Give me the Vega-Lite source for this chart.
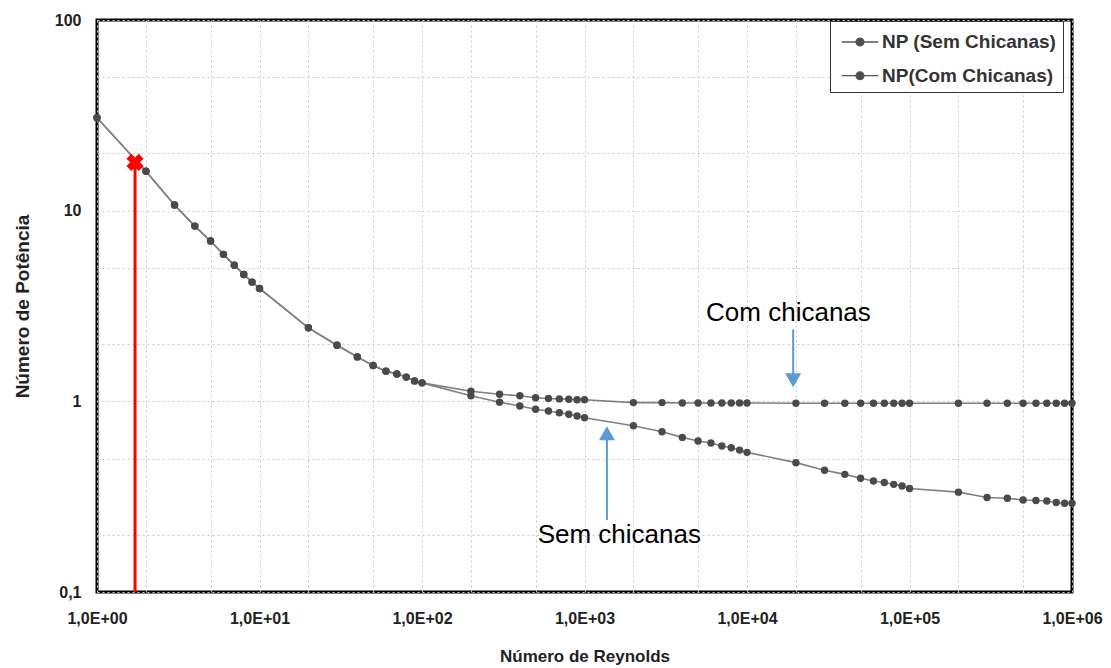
{
  "$schema": "https://vega.github.io/schema/vega-lite/v6.json",
  "width": 975,
  "height": 572,
  "autosize": {"type": "none"},
  "padding": {"left": 97, "top": 20, "right": 39, "bottom": 76},
  "background": "#ffffff",
  "config": {
    "view": {"stroke": "#000000", "strokeWidth": 3},
    "font": "Liberation Sans"
  },
  "datasets": {
    "series": [
      {"series": "NP (Sem Chicanas)", "Re": 1, "NP": 30.7},
      {"series": "NP (Sem Chicanas)", "Re": 2, "NP": 16.1},
      {"series": "NP (Sem Chicanas)", "Re": 3, "NP": 10.7},
      {"series": "NP (Sem Chicanas)", "Re": 4, "NP": 8.3},
      {"series": "NP (Sem Chicanas)", "Re": 5, "NP": 6.93},
      {"series": "NP (Sem Chicanas)", "Re": 6, "NP": 5.9},
      {"series": "NP (Sem Chicanas)", "Re": 7, "NP": 5.18},
      {"series": "NP (Sem Chicanas)", "Re": 8, "NP": 4.63},
      {"series": "NP (Sem Chicanas)", "Re": 9, "NP": 4.22},
      {"series": "NP (Sem Chicanas)", "Re": 10, "NP": 3.91},
      {"series": "NP (Sem Chicanas)", "Re": 20, "NP": 2.43},
      {"series": "NP (Sem Chicanas)", "Re": 30, "NP": 1.97},
      {"series": "NP (Sem Chicanas)", "Re": 40, "NP": 1.71},
      {"series": "NP (Sem Chicanas)", "Re": 50, "NP": 1.54},
      {"series": "NP (Sem Chicanas)", "Re": 60, "NP": 1.44},
      {"series": "NP (Sem Chicanas)", "Re": 70, "NP": 1.39},
      {"series": "NP (Sem Chicanas)", "Re": 80, "NP": 1.34},
      {"series": "NP (Sem Chicanas)", "Re": 90, "NP": 1.28},
      {"series": "NP (Sem Chicanas)", "Re": 100, "NP": 1.25},
      {"series": "NP (Sem Chicanas)", "Re": 200, "NP": 1.07},
      {"series": "NP (Sem Chicanas)", "Re": 300, "NP": 0.99},
      {"series": "NP (Sem Chicanas)", "Re": 400, "NP": 0.945},
      {"series": "NP (Sem Chicanas)", "Re": 500, "NP": 0.908},
      {"series": "NP (Sem Chicanas)", "Re": 600, "NP": 0.89},
      {"series": "NP (Sem Chicanas)", "Re": 700, "NP": 0.872},
      {"series": "NP (Sem Chicanas)", "Re": 800, "NP": 0.855},
      {"series": "NP (Sem Chicanas)", "Re": 900, "NP": 0.837},
      {"series": "NP (Sem Chicanas)", "Re": 1000, "NP": 0.821},
      {"series": "NP (Sem Chicanas)", "Re": 2000, "NP": 0.745},
      {"series": "NP (Sem Chicanas)", "Re": 3000, "NP": 0.692},
      {"series": "NP (Sem Chicanas)", "Re": 4000, "NP": 0.647},
      {"series": "NP (Sem Chicanas)", "Re": 5000, "NP": 0.62},
      {"series": "NP (Sem Chicanas)", "Re": 6000, "NP": 0.605},
      {"series": "NP (Sem Chicanas)", "Re": 7000, "NP": 0.583},
      {"series": "NP (Sem Chicanas)", "Re": 8000, "NP": 0.571},
      {"series": "NP (Sem Chicanas)", "Re": 9000, "NP": 0.555},
      {"series": "NP (Sem Chicanas)", "Re": 10000, "NP": 0.54},
      {"series": "NP (Sem Chicanas)", "Re": 20000, "NP": 0.477},
      {"series": "NP (Sem Chicanas)", "Re": 30000, "NP": 0.435},
      {"series": "NP (Sem Chicanas)", "Re": 40000, "NP": 0.414},
      {"series": "NP (Sem Chicanas)", "Re": 50000, "NP": 0.395},
      {"series": "NP (Sem Chicanas)", "Re": 60000, "NP": 0.382},
      {"series": "NP (Sem Chicanas)", "Re": 70000, "NP": 0.375},
      {"series": "NP (Sem Chicanas)", "Re": 80000, "NP": 0.367},
      {"series": "NP (Sem Chicanas)", "Re": 90000, "NP": 0.36},
      {"series": "NP (Sem Chicanas)", "Re": 100000, "NP": 0.349},
      {"series": "NP (Sem Chicanas)", "Re": 200000, "NP": 0.334},
      {"series": "NP (Sem Chicanas)", "Re": 300000, "NP": 0.313},
      {"series": "NP (Sem Chicanas)", "Re": 400000, "NP": 0.31},
      {"series": "NP (Sem Chicanas)", "Re": 500000, "NP": 0.304},
      {"series": "NP (Sem Chicanas)", "Re": 600000, "NP": 0.302},
      {"series": "NP (Sem Chicanas)", "Re": 700000, "NP": 0.3},
      {"series": "NP (Sem Chicanas)", "Re": 800000, "NP": 0.295},
      {"series": "NP (Sem Chicanas)", "Re": 900000, "NP": 0.292},
      {"series": "NP (Sem Chicanas)", "Re": 1000000, "NP": 0.292},
      {"series": "NP(Com Chicanas)", "Re": 1, "NP": 30.7},
      {"series": "NP(Com Chicanas)", "Re": 2, "NP": 16.1},
      {"series": "NP(Com Chicanas)", "Re": 3, "NP": 10.7},
      {"series": "NP(Com Chicanas)", "Re": 4, "NP": 8.3},
      {"series": "NP(Com Chicanas)", "Re": 5, "NP": 6.93},
      {"series": "NP(Com Chicanas)", "Re": 6, "NP": 5.9},
      {"series": "NP(Com Chicanas)", "Re": 7, "NP": 5.18},
      {"series": "NP(Com Chicanas)", "Re": 8, "NP": 4.63},
      {"series": "NP(Com Chicanas)", "Re": 9, "NP": 4.22},
      {"series": "NP(Com Chicanas)", "Re": 10, "NP": 3.91},
      {"series": "NP(Com Chicanas)", "Re": 20, "NP": 2.43},
      {"series": "NP(Com Chicanas)", "Re": 30, "NP": 1.97},
      {"series": "NP(Com Chicanas)", "Re": 40, "NP": 1.71},
      {"series": "NP(Com Chicanas)", "Re": 50, "NP": 1.54},
      {"series": "NP(Com Chicanas)", "Re": 60, "NP": 1.44},
      {"series": "NP(Com Chicanas)", "Re": 70, "NP": 1.39},
      {"series": "NP(Com Chicanas)", "Re": 80, "NP": 1.34},
      {"series": "NP(Com Chicanas)", "Re": 90, "NP": 1.28},
      {"series": "NP(Com Chicanas)", "Re": 100, "NP": 1.25},
      {"series": "NP(Com Chicanas)", "Re": 200, "NP": 1.13},
      {"series": "NP(Com Chicanas)", "Re": 300, "NP": 1.09},
      {"series": "NP(Com Chicanas)", "Re": 400, "NP": 1.07},
      {"series": "NP(Com Chicanas)", "Re": 500, "NP": 1.045},
      {"series": "NP(Com Chicanas)", "Re": 600, "NP": 1.035},
      {"series": "NP(Com Chicanas)", "Re": 700, "NP": 1.03},
      {"series": "NP(Com Chicanas)", "Re": 800, "NP": 1.025},
      {"series": "NP(Com Chicanas)", "Re": 900, "NP": 1.02},
      {"series": "NP(Com Chicanas)", "Re": 1000, "NP": 1.02},
      {"series": "NP(Com Chicanas)", "Re": 2000, "NP": 0.985},
      {"series": "NP(Com Chicanas)", "Re": 3000, "NP": 0.985},
      {"series": "NP(Com Chicanas)", "Re": 4000, "NP": 0.98},
      {"series": "NP(Com Chicanas)", "Re": 5000, "NP": 0.98},
      {"series": "NP(Com Chicanas)", "Re": 6000, "NP": 0.98},
      {"series": "NP(Com Chicanas)", "Re": 7000, "NP": 0.98},
      {"series": "NP(Com Chicanas)", "Re": 8000, "NP": 0.98},
      {"series": "NP(Com Chicanas)", "Re": 9000, "NP": 0.98},
      {"series": "NP(Com Chicanas)", "Re": 10000, "NP": 0.98},
      {"series": "NP(Com Chicanas)", "Re": 20000, "NP": 0.978},
      {"series": "NP(Com Chicanas)", "Re": 30000, "NP": 0.978},
      {"series": "NP(Com Chicanas)", "Re": 40000, "NP": 0.978},
      {"series": "NP(Com Chicanas)", "Re": 50000, "NP": 0.978},
      {"series": "NP(Com Chicanas)", "Re": 60000, "NP": 0.978},
      {"series": "NP(Com Chicanas)", "Re": 70000, "NP": 0.978},
      {"series": "NP(Com Chicanas)", "Re": 80000, "NP": 0.978},
      {"series": "NP(Com Chicanas)", "Re": 90000, "NP": 0.978},
      {"series": "NP(Com Chicanas)", "Re": 100000, "NP": 0.978},
      {"series": "NP(Com Chicanas)", "Re": 200000, "NP": 0.978},
      {"series": "NP(Com Chicanas)", "Re": 300000, "NP": 0.978},
      {"series": "NP(Com Chicanas)", "Re": 400000, "NP": 0.978},
      {"series": "NP(Com Chicanas)", "Re": 500000, "NP": 0.978},
      {"series": "NP(Com Chicanas)", "Re": 600000, "NP": 0.978},
      {"series": "NP(Com Chicanas)", "Re": 700000, "NP": 0.978},
      {"series": "NP(Com Chicanas)", "Re": 800000, "NP": 0.978},
      {"series": "NP(Com Chicanas)", "Re": 900000, "NP": 0.978},
      {"series": "NP(Com Chicanas)", "Re": 1000000, "NP": 0.978}
    ],
    "marker": [{"Re": 1.714, "NP": 17.92, "NP2": 0.1}],
    "arrows": [
      {"Re": 19230, "NP": 2.385, "NP2": 1.385},
      {"Re": 1374, "NP": 0.2384, "NP2": 0.66}
    ],
    "heads": [
      {"Re": 19230, "NP": 1.29, "dir": "down"},
      {"Re": 1374, "NP": 0.68, "dir": "up"}
    ],
    "notes": [
      {"Re": 17990, "NP": 2.637, "label": "Com chicanas"},
      {"Re": 1638, "NP": 0.1816, "label": "Sem chicanas"}
    ]
  },
  "encoding": {
    "x": {
      "field": "Re", "type": "quantitative",
      "scale": {"type": "log", "domain": [1, 1000000], "nice": false},
      "axis": {
        "title": "Número de Reynolds",
        "titleFont": "Liberation Sans", "titleFontSize": 17, "titleFontWeight": "bold", "titleColor": "#222",
        "titlePadding": 22,
        "values": [1, 2, 5, 10, 20, 50, 100, 200, 500, 1000, 2000, 5000, 10000, 20000, 50000, 100000, 200000, 500000, 1000000],
        "labelExpr": "abs(log(datum.value)/LN10 - round(log(datum.value)/LN10)) < 0.001 ? '1,0E+0' + round(log(datum.value)/LN10) : ''",
        "labelOverlap": false, "labelFlush": false, "labelBound": false,
        "labelFont": "Liberation Sans", "labelFontSize": 16, "labelFontWeight": "bold", "labelColor": "#222",
        "labelPadding": 18,
        "ticks": false, "domain": false,
        "grid": true, "gridColor": "#c8c8c8", "gridDash": [2, 3], "gridWidth": 1
      }
    },
    "y": {
      "field": "NP", "type": "quantitative",
      "scale": {"type": "log", "domain": [0.1, 100], "nice": false},
      "axis": {
        "title": "Número de Potência",
        "titleFont": "Liberation Sans", "titleFontSize": 19, "titleFontWeight": "bold", "titleColor": "#222",
        "titlePadding": 22,
        "values": [0.1, 0.2, 0.5, 1, 2, 5, 10, 20, 50, 100],
        "labelExpr": "datum.value == 0.1 ? '0,1' : (datum.value == 1 || datum.value == 10 || datum.value == 100 ? format(datum.value, 'd') : '')",
        "labelOverlap": false, "labelFlush": false, "labelBound": false,
        "labelFont": "Liberation Sans", "labelFontSize": 16, "labelFontWeight": "bold", "labelColor": "#222",
        "labelPadding": 16,
        "ticks": false, "domain": false,
        "grid": true, "gridColor": "#c8c8c8", "gridDash": [2, 3], "gridWidth": 1
      }
    }
  },
  "layer": [
    {
      "data": {"name": "series"},
      "mark": {"type": "line", "color": "#808080", "strokeWidth": 1.6},
      "encoding": {"detail": {"field": "series"}}
    },
    {
      "data": {"name": "series"},
      "mark": {"type": "point", "filled": true, "shape": "circle", "size": 55, "opacity": 1},
      "encoding": {
        "color": {
          "field": "series", "type": "nominal",
          "scale": {"domain": ["NP (Sem Chicanas)", "NP(Com Chicanas)"], "range": ["#4a4a4a", "#4a4a4a"]},
          "legend": {
            "title": null,
            "orient": "none", "legendX": 733, "legendY": 1,
            "direction": "vertical",
            "fillColor": "#ffffff", "strokeColor": "#333333",
            "padding": 6, "symbolOffset": 9,
            "symbolType": "M-1.3,0L1.3,0M-0.28,0A0.28,0.28,0,1,1,0.28,0A0.28,0.28,0,1,1,-0.28,0",
            "symbolSize": 784,
            "symbolStrokeColor": "#555555", "symbolStrokeWidth": 1.3, "symbolFillColor": "#444444",
            "labelOffset": 7, "labelFontSize": 19, "labelFontWeight": "bold", "labelFont": "Liberation Sans", "labelColor": "#333",
            "labelLimit": 0, "rowPadding": 8.7,
            "encode": {"symbols": {"update": {"stroke": {"value": "#555555"}, "strokeWidth": {"value": 1.3}, "strokeOpacity": {"value": 1}, "fill": {"value": "#444444"}}}}
          }
        }
      }
    },
    {
      "data": {"name": "marker"},
      "mark": {"type": "rule", "color": "#ff0000", "strokeWidth": 3},
      "encoding": {"y2": {"field": "NP2"}}
    },
    {
      "data": {"name": "marker"},
      "mark": {"type": "point", "shape": "cross", "angle": 45, "filled": true, "color": "#ff0000", "size": 300, "opacity": 1}
    },
    {
      "data": {"name": "arrows"},
      "mark": {"type": "rule", "color": "#5b9bd5", "strokeWidth": 2},
      "encoding": {"y2": {"field": "NP2"}}
    },
    {
      "data": {"name": "heads"},
      "mark": {"type": "point", "filled": true, "color": "#5b9bd5", "size": 256, "opacity": 1},
      "encoding": {
        "shape": {"field": "dir", "type": "nominal", "scale": {"domain": ["down", "up"], "range": ["triangle-down", "triangle-up"]}, "legend": null}
      }
    },
    {
      "data": {"name": "notes"},
      "mark": {"type": "text", "font": "Liberation Sans", "fontSize": 26, "color": "#000000", "align": "center", "baseline": "alphabetic"},
      "encoding": {"text": {"field": "label"}}
    }
  ]
}
